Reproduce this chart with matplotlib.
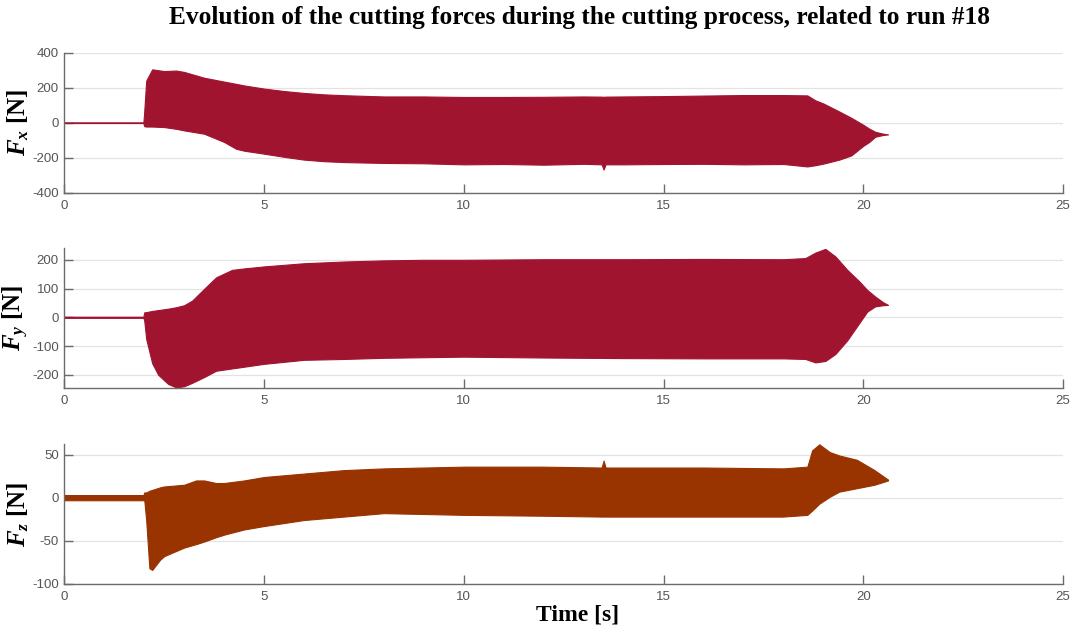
import matplotlib
matplotlib.use("Agg")
import matplotlib.pyplot as plt

# ---------------- data (envelopes) ----------------
fx_t = [0, 1.98, 2.0, 2.05, 2.2, 2.5, 2.8, 3.0, 3.5, 4.0, 4.3, 4.5, 5.0, 5.5, 6.0,
        6.5, 7.0, 8.0, 9.0, 10.0, 11.0, 12.0, 13.0, 13.45, 13.5, 13.55, 14.0, 15.0,
        16.0, 17.0, 18.0, 18.6, 18.8, 19.0, 19.4, 19.7, 20.0, 20.15, 20.3, 20.5, 20.62]
fx_up = [2, 2, 60, 240, 305, 295, 298, 290, 257, 235, 222, 213, 195, 181, 170,
         162, 157, 150, 150, 147, 147, 148, 150, 149, 148, 149, 150, 152,
         155, 158, 158, 156, 128, 110, 64, 28, -12, -34, -52, -63, -67]
fx_lo = [-2, -2, -20, -22, -22, -25, -35, -44, -63, -110, -149, -160, -177, -195, -211,
         -220, -225, -230, -232, -238, -236, -240, -235, -238, -268, -238, -238, -236,
         -235, -238, -236, -250, -243, -234, -211, -187, -132, -110, -80, -70, -67]

fy_t = [0, 1.98, 2.0, 2.05, 2.2, 2.35, 2.6, 2.8, 3.0, 3.2, 3.5, 3.8, 4.2, 4.5, 5.0,
        6.0, 7.0, 8.0, 9.0, 10.0, 12.0, 14.0, 16.0, 18.0, 18.55, 18.8, 19.05, 19.3,
        19.6, 19.9, 20.1, 20.3, 20.5, 20.62]
fy_up = [2, 2, 17, 18, 22, 25, 30, 35, 42, 58, 99, 139, 165, 170, 177,
         188, 194, 198, 200, 200, 202, 202, 203, 202, 206, 225, 238, 212,
         165, 125, 95, 72, 52, 43]
fy_lo = [-2, -2, -10, -75, -160, -200, -232, -244, -240, -228, -208, -186, -178, -172, -162,
         -148, -145, -141, -139, -137, -140, -142, -143, -143, -145, -157, -152, -128,
         -80, -20, 20, 38, 42, 43]

fz_t = [0, 1.98, 2.0, 2.05, 2.13, 2.2, 2.4, 2.5, 3.0, 3.3, 3.5, 3.8, 4.0, 4.5, 5.0,
        6.0, 7.0, 8.0, 10.0, 12.0, 13.45, 13.5, 13.55, 14.0, 16.0, 18.0, 18.6, 18.72,
        18.9, 19.16, 19.4, 19.84, 20.28, 20.62]
fz_up = [3, 3, 6, 6, 8, 9, 12, 13, 15, 20, 20, 17, 17, 20, 24,
         28, 32, 34, 36, 36, 35, 43, 35, 35, 35, 34, 36, 55,
         62, 53, 49, 44, 32, 21]
fz_lo = [-3, -3, -2, -26, -82, -84, -72, -68, -58, -54, -51, -46, -43, -37, -33,
         -26, -22, -18, -20, -21, -22, -22, -22, -22, -22, -22, -20, -15,
         -7, 1, 7, 11, 15, 20]

series = [
    (fx_t, fx_up, fx_lo, "x", (-400, 400), [-400, -200, 0, 200, 400]),
    (fy_t, fy_up, fy_lo, "y", (-245, 240), [-200, -100, 0, 100, 200]),
    (fz_t, fz_up, fz_lo, "z", (-100, 62), [-100, -50, 0, 50]),
]
colors = ["#A11430", "#A11430", "#993300"]
x_ticks = [0, 5, 10, 15, 20, 25]
title = "Evolution of the cutting forces during the cutting process, related to run #18"
xlabel = "Time [s]"

# ---------------- styling ----------------
plt.rcParams["axes.unicode_minus"] = False
plt.rcParams["mathtext.fontset"] = "custom"
plt.rcParams["mathtext.rm"] = "Liberation Serif:bold"
plt.rcParams["mathtext.it"] = "Liberation Serif:italic:bold"
plt.rcParams["mathtext.bf"] = "Liberation Serif:bold"

W, H = 1072, 631
fig = plt.figure(figsize=(W / 100, H / 100), dpi=100)
left, right = 64.3 / W, 1063.0 / W
boxes = [(52.7, 192.7), (248.3, 387.7), (444.3, 583.7)]
spine_c = "#6b6b6b"

for (t, up, lo, sub, ylim, yt), col, (top_px, bot_px) in zip(series, colors, boxes):
    ax = fig.add_axes([left, 1 - bot_px / H, right - left, (bot_px - top_px) / H])
    ax.fill_between(t, lo, up, color=col, linewidth=0.8, edgecolor=col)
    ax.set_xlim(0, 25)
    ax.set_ylim(*ylim)
    ax.set_xticks(x_ticks)
    ax.set_yticks(yt)
    ax.set_xticklabels([str(v) for v in x_ticks])
    ax.set_yticklabels([str(v) for v in yt])
    for s in ["top", "right"]:
        ax.spines[s].set_visible(False)
    for s in ["left", "bottom"]:
        ax.spines[s].set_color(spine_c)
        ax.spines[s].set_linewidth(1.0)
    ax.tick_params(direction="in", length=6.5, width=1.0, color=spine_c,
                   labelcolor="#555555", labelsize=9.5)
    ax.tick_params(axis="y", pad=4)
    ax.tick_params(axis="x", pad=5)
    for lab in ax.get_xticklabels() + ax.get_yticklabels():
        lab.set_family("Liberation Sans")
    ax.grid(axis="y", color="#e3e3e3", linewidth=0.9)
    ax.set_axisbelow(True)
    ax.set_ylabel(r"$F_%s$ [N]" % sub, fontsize=18, family="Liberation Serif",
                  fontweight="bold")
    ax.yaxis.set_label_coords(-0.0333, 0.5)

fig.text(0.541, 0.973, title, ha="center", va="center", fontsize=18.3,
         family="Liberation Serif", fontweight="bold")
fig.text(0.539, 0.025, xlabel, ha="center", va="center", fontsize=17,
         family="Liberation Serif", fontweight="bold")

fig.savefig("out.png", dpi=100)
